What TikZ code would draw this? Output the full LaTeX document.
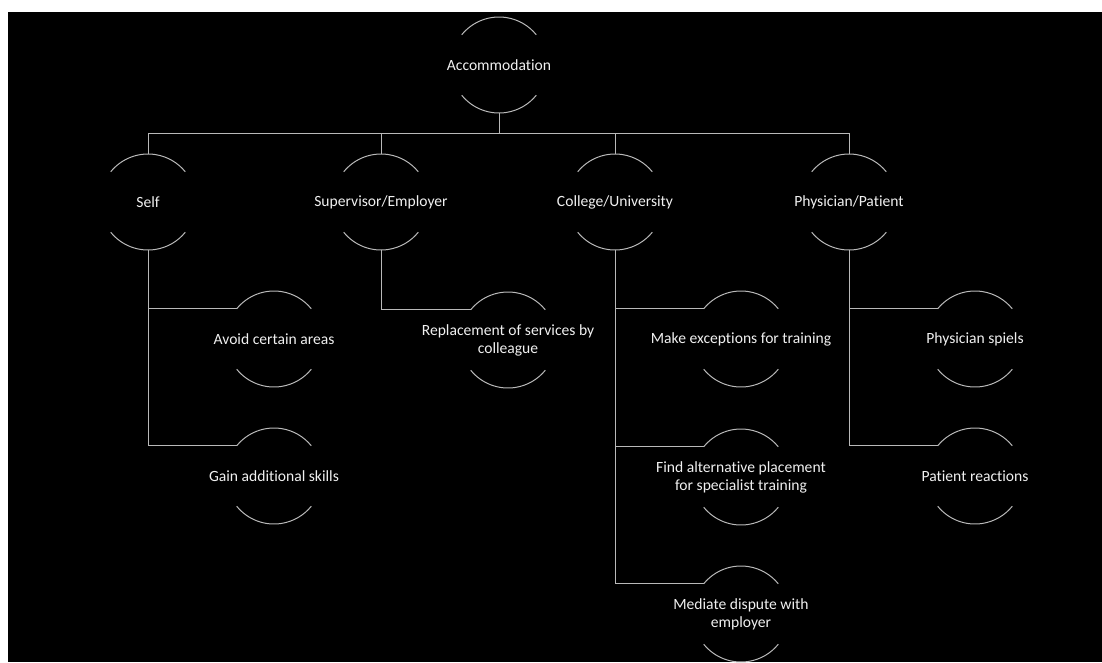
\documentclass[tikz,border=0pt]{standalone}
\usepackage{fontspec}
\setmainfont[Ligatures=NoCommon]{Carlito}
\usepackage{tikz}
\usetikzlibrary{calc}

\definecolor{linegray}{RGB}{185,185,185}
\definecolor{textwhite}{RGB}{240,240,240}
\tikzset{bubble/.style={rectangle,inner sep=0pt,align=center,text=textwhite,font=\fontsize{15.6}{18}\selectfont},
link/.style={draw=linegray,line width=1pt}}
% text with a half-circle above and below it
\newcommand{\bubble}[4]{%
\node[bubble] (#1) at (#2,#3) {#4};
\coordinate (#1-top) at ($(#1.center)+(90:48pt)$);
\coordinate (#1-bot) at ($(#1.center)+(270:48pt)$);
\coordinate (#1-in) at ($(#1.center)+(141:48pt)$);
\draw[link] (#1-in) arc[start angle=141,end angle=39,radius=48pt];
\draw[link] ($(#1.center)+(219:48pt)$) arc[start angle=219,end angle=321,radius=48pt];}

\begin{document}
\begin{tikzpicture}[x=1pt,y=-1pt]
\fill[white] (0,0) rectangle (1102,662);
\fill[black] (8,12) rectangle (1102,662);
\useasboundingbox (0,0) rectangle (1102,662);
\coordinate (bus) at (0,133);

\bubble{acc}{499}{65}{Accommodation}
\bubble{self}{148}{202}{Self}
\bubble{sup}{381}{202}{Supervisor/Employer}
\bubble{col}{615}{202}{College/University}
\bubble{phy}{849}{202}{Physician/Patient}

\bubble{avoid}{274}{339}{Avoid certain areas}
\bubble{gain}{274}{476}{Gain additional skills}
\bubble{repl}{508}{340}{Replacement of services by\\colleague}
\bubble{exc}{741}{339}{Make exceptions for training}
\bubble{alt}{741}{477}{Find alternative placement\\for specialist training}
\bubble{med}{741}{614}{Mediate dispute with\\employer}
\bubble{spiel}{975}{339}{Physician spiels}
\bubble{react}{975}{476}{Patient reactions}

\draw[link] (acc-bot) -- (acc-bot |- bus) -| (self-top);
\draw[link] (acc-bot) -- (acc-bot |- bus) -| (sup-top);
\draw[link] (acc-bot) -- (acc-bot |- bus) -| (col-top);
\draw[link] (acc-bot) -- (acc-bot |- bus) -| (phy-top);

\draw[link] (self-bot) |- (avoid-in);
\draw[link] (self-bot) |- (gain-in);
\draw[link] (sup-bot) |- (repl-in);
\draw[link] (col-bot) |- (exc-in);
\draw[link] (col-bot) |- (alt-in);
\draw[link] (col-bot) |- (med-in);
\draw[link] (phy-bot) |- (spiel-in);
\draw[link] (phy-bot) |- (react-in);
\end{tikzpicture}
\end{document}
